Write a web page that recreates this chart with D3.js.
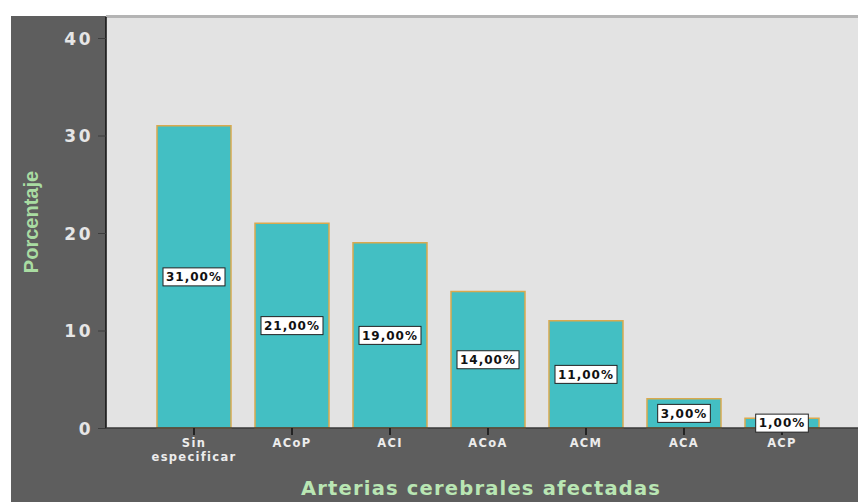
<!DOCTYPE html>
<html>
<head>
<meta charset="utf-8">
<script src="https://cdn.jsdelivr.net/npm/d3@7"></script>
<style>
  html, body { margin: 0; padding: 0; background: #ffffff; }
  svg { display: block; }
</style>
</head>
<body>
<svg id="chart" width="858" height="502"></svg>
<script>
// Arterias cerebrales afectadas (porcentaje de casos)
const categories = [["Sin", "especificar"], ["ACoP"], ["ACI"], ["ACoA"], ["ACM"], ["ACA"], ["ACP"]];
const percentages = [31, 21, 19, 14, 11, 3, 1];
const yTicks = [0, 10, 20, 30, 40];

const svg = d3.select("#chart");
const W = 858, H = 502;
const plot = { left: 106, right: 858, top: 17, bottom: 428 };
const FONT = "DejaVu Sans, Verdana, sans-serif";

const keys = categories.map(c => c.join(" "));

const x = d3.scaleBand()
  .domain(keys)
  .range([145, 831])
  .paddingInner(0.245)
  .paddingOuter(0.1225);

const y = d3.scaleLinear()
  .domain([0, 40])
  .range([plot.bottom, 38]);

// outer dark frame
svg.append("rect")
  .attr("x", 11).attr("y", 16)
  .attr("width", W - 11).attr("height", H - 16)
  .attr("fill", "#5e5e5e");

// plot background
svg.append("rect")
  .attr("x", plot.left).attr("y", plot.top)
  .attr("width", plot.right - plot.left).attr("height", plot.bottom - plot.top)
  .attr("fill", "#e3e3e3");

// top edge of plot area
svg.append("line")
  .attr("x1", plot.left).attr("x2", W)
  .attr("y1", 16.5).attr("y2", 16.5)
  .attr("stroke", "#b4b4b4").attr("stroke-width", 3);

// bars
svg.append("g")
  .selectAll("rect")
  .data(percentages)
  .join("rect")
  .attr("x", (d, i) => x(keys[i]))
  .attr("y", d => y(d))
  .attr("width", x.bandwidth())
  .attr("height", d => y(0) - y(d))
  .attr("fill", "#43bfc3")
  .attr("stroke", "#d9a94e")
  .attr("stroke-width", 1.5);

// y axis
const yAxis = d3.axisLeft(y).tickValues(yTicks).tickSize(8).tickFormat(d3.format("d"));
const gy = svg.append("g")
  .attr("transform", `translate(${plot.left},0)`)
  .call(yAxis);
gy.select(".domain").attr("stroke", "#111").attr("stroke-width", 1.5)
  .attr("d", `M0,${plot.top}V${plot.bottom}`);
gy.selectAll(".tick line").attr("stroke", "#3c3c3c").attr("stroke-width", 1);
gy.selectAll(".tick text")
  .attr("x", -13)
  .attr("dy", "0.36em")
  .attr("fill", "#e6e6e6")
  .attr("font-family", FONT)
  .attr("font-weight", "bold")
  .attr("font-size", 17)
  .style("letter-spacing", "2.5px");

// x axis
const xAxis = d3.axisBottom(x).tickSize(7).tickFormat("");
const gx = svg.append("g")
  .attr("transform", `translate(0,${plot.bottom})`)
  .call(xAxis);
gx.select(".domain").attr("stroke", "#3a3a3a").attr("stroke-width", 1.5)
  .attr("d", `M${plot.left},0H${W}`);
gx.selectAll(".tick line").attr("stroke", "#111").attr("stroke-width", 1.5);

// category labels
const labelG = svg.append("g");
categories.forEach((lines, i) => {
  const cx = x(keys[i]) + x.bandwidth() / 2;
  const t = labelG.append("text")
    .attr("x", cx)
    .attr("y", plot.bottom + 19)
    .attr("text-anchor", "middle")
    .attr("fill", "#ececec")
    .attr("font-family", FONT)
    .attr("font-weight", "bold")
    .attr("font-size", 11.5)
    .style("letter-spacing", "1.3px");
  lines.forEach((ln, j) => {
    t.append("tspan").attr("x", cx).attr("dy", j === 0 ? 0 : 14).text(ln);
  });
});

// value labels, boxed, centred halfway up each bar
const fmt = v => d3.format(".2f")(v).replace(".", ",") + "%";
const vg = svg.append("g");
percentages.forEach((v, i) => {
  const cx = x(keys[i]) + x.bandwidth() / 2;
  const cy = y(v / 2);
  const g = vg.append("g").attr("transform", `translate(${cx},${cy})`);
  const txt = g.append("text")
    .attr("text-anchor", "middle")
    .attr("dy", "0.36em")
    .attr("fill", "#111")
    .attr("font-family", FONT)
    .attr("font-weight", "bold")
    .attr("font-size", 12)
    .style("letter-spacing", "1px")
    .text(fmt(v));
  const bb = txt.node().getBBox();
  g.insert("rect", "text")
    .attr("x", bb.x - 3).attr("y", -9)
    .attr("width", bb.width + 6).attr("height", 18)
    .attr("fill", "#ffffff")
    .attr("stroke", "#222")
    .attr("stroke-width", 1);
});

// axis titles
svg.append("text")
  .attr("transform", `translate(38,222) rotate(-90)`)
  .attr("text-anchor", "middle")
  .attr("fill", "#a9dca2")
  .attr("font-family", "Liberation Sans Narrow, Liberation Sans, Arial, sans-serif")
  .attr("font-weight", "bold")
  .attr("font-size", 20)
  .text("Porcentaje");

svg.append("text")
  .attr("x", 481)
  .attr("y", 495)
  .attr("text-anchor", "middle")
  .attr("fill", "#b9e6b3")
  .attr("font-family", FONT)
  .attr("font-weight", "bold")
  .attr("font-size", 19.5)
  .style("letter-spacing", "1.2px")
  .text("Arterias cerebrales afectadas");
</script>
</body>
</html>
